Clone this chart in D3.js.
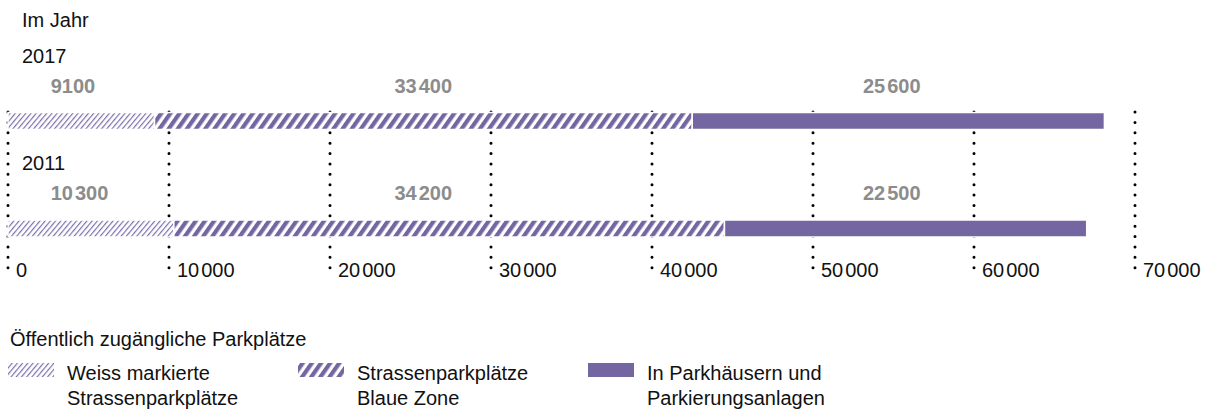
<!DOCTYPE html>
<html>
<head>
<meta charset="utf-8">
<script src="https://cdn.jsdelivr.net/npm/d3@7"></script>
<style>
  body { margin: 0; background: #fff; }
  text { font-family: Helvetica, Arial, "Liberation Sans", sans-serif; }
</style>
</head>
<body>
<svg id="chart"></svg>
<script>
// data
const years = ["2017", "2011"];
const categories = ["weiss", "blau", "parkhaus"];
const values2017 = [9100, 33400, 25600];
const values2011 = [10300, 34200, 22500];
const tickValues = [0, 10000, 20000, 30000, 40000, 50000, 60000, 70000];
const legendLines = [
    ["Weiss markierte", "Strassenparkplätze"],
    ["Strassenparkplätze", "Blaue Zone"],
    ["In Parkhäusern und", "Parkierungsanlagen"]
];
// where the value labels start (in axis units), same column for both years
const labelStarts = [2650, 24000, 53100];

const width = 1216, height = 412;
const purple = "#7467a1";

const svg = d3.select("#chart")
    .attr("width", width)
    .attr("height", height);

// swiss number style: no separator below 10000, narrow gap above
function numParts(v) {
    const s = String(v);
    if (v < 10000) return [s];
    return [s.slice(0, s.length - 3), s.slice(-3)];
}
function writeNum(sel) {
    sel.each(function (v) {
        const t = d3.select(this);
        numParts(v).forEach((p, i) => {
            t.append("tspan").attr("dx", i ? 2 : 0).text(p);
        });
    });
}

const x = d3.scaleLinear().domain([0, 70000]).range([8, 1135]);
const y = d3.scalePoint().domain(years).range([112.5, 220]);
const barH = 17;

// hatch patterns
const defs = svg.append("defs");
function hatch(id, spacing, stroke, color, angle) {
    const p = defs.append("pattern")
        .attr("id", id)
        .attr("patternUnits", "userSpaceOnUse")
        .attr("width", spacing)
        .attr("height", spacing)
        .attr("patternTransform", `rotate(${angle})`);
    p.append("rect").attr("width", spacing).attr("height", spacing).attr("fill", "#fff");
    p.append("rect").attr("width", stroke).attr("height", spacing).attr("fill", color);
}
hatch("hatch-light", 4, 1.2, "#7d71ab", 40);
hatch("hatch-heavy", 7.5, 4.2, purple, 35);

const fills = { weiss: "url(#hatch-light)", blau: "url(#hatch-heavy)", parkhaus: purple };

// header
svg.append("text")
    .attr("x", 22).attr("y", 27)
    .attr("font-size", 20)
    .attr("fill", "#111")
    .text("Im Jahr");

// dotted gridlines
svg.append("g")
    .selectAll("line")
    .data(tickValues)
    .enter().append("line")
    .attr("x1", d => x(d)).attr("x2", d => x(d))
    .attr("y1", 112).attr("y2", 278)
    .attr("stroke", "#000")
    .attr("stroke-width", 3)
    .attr("stroke-linecap", "round")
    .attr("stroke-dasharray", "0 10.375");

// tick labels
svg.append("g")
    .selectAll("text")
    .data(tickValues)
    .enter().append("text")
    .attr("x", d => x(d) + 8)
    .attr("y", 277)
    .attr("font-size", 20)
    .attr("fill", "#111")
    .call(writeNum);

// bars
const rows = [
    { year: "2017", values: values2017 },
    { year: "2011", values: values2011 }
];

rows.forEach(row => {
    let acc = 0;
    const segs = row.values.map((v, i) => {
        const s = { cat: categories[i], start: acc, end: acc + v, value: v, i };
        acc += v;
        return s;
    });
    const by = y(row.year);

    svg.append("text")
        .attr("x", 22).attr("y", by - 50)
        .attr("font-size", 20)
        .attr("fill", "#111")
        .text(row.year);

    const g = svg.append("g");
    g.selectAll("rect")
        .data(segs)
        .enter().append("rect")
        .attr("x", d => x(d.start))
        .attr("y", by)
        .attr("width", d => x(d.end) - x(d.start))
        .attr("height", barH)
        .attr("fill", d => fills[d.cat])
        .attr("stroke", "#fff")
        .attr("stroke-width", 1.5);

    g.selectAll("text")
        .data(segs)
        .enter().append("text")
        .attr("x", d => x(labelStarts[d.i]))
        .attr("y", by - 20)
        .attr("font-size", 20)
        .attr("font-weight", "bold")
        .attr("fill", "#8c8c8c")
        .each(function (d) {
            const t = d3.select(this);
            numParts(d.value).forEach((p, i) => {
                t.append("tspan").attr("dx", i ? 2 : 0).text(p);
            });
        });
});

// legend
svg.append("text")
    .attr("x", 10).attr("y", 346)
    .attr("font-size", 20)
    .attr("fill", "#111")
    .text("Öffentlich zugängliche Parkplätze");

const legend = svg.append("g")
    .selectAll("g")
    .data(categories)
    .enter().append("g")
    .attr("transform", (d, i) => `translate(${8 + i * 290}, 0)`);

legend.append("rect")
    .attr("x", 0).attr("y", 363)
    .attr("width", 46).attr("height", 14)
    .attr("fill", d => fills[d]);

legend.append("text")
    .attr("x", 59)
    .attr("font-size", 20)
    .attr("fill", "#111")
    .selectAll("tspan")
    .data((d, i) => legendLines[i])
    .enter().append("tspan")
    .attr("x", 59)
    .attr("y", (d, j) => 380 + j * 25)
    .text(d => d);
</script>
</body>
</html>
